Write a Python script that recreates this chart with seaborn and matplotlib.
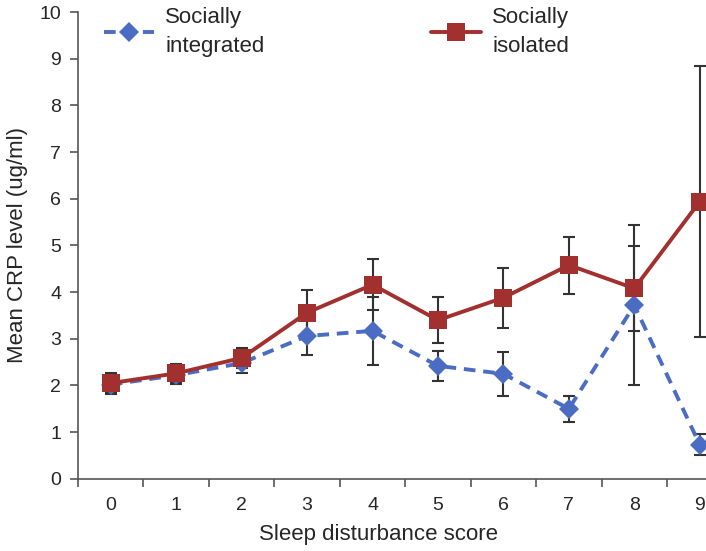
import numpy as np
import pandas as pd
import matplotlib
matplotlib.use('Agg')
import matplotlib.pyplot as plt
import seaborn as sns
from matplotlib.ticker import FixedLocator

# data
scores = [0, 1, 2, 3, 4, 5, 6, 7, 8, 9]
integrated_mean = [2.02, 2.22, 2.48, 3.06, 3.17, 2.42, 2.25, 1.50, 3.72, 0.73]
integrated_err = [0.20, 0.18, 0.22, 0.41, 0.73, 0.32, 0.47, 0.28, 1.72, 0.23]
isolated_mean = [2.05, 2.26, 2.59, 3.56, 4.16, 3.40, 3.88, 4.58, 4.08, 5.94]
isolated_err = [0.22, 0.20, 0.21, 0.48, 0.55, 0.50, 0.64, 0.61, 0.91, 2.91]
group_names = ['Socially integrated', 'Socially isolated']
legend_labels = ['Socially\nintegrated', 'Socially\nisolated']

blue = '#4a6cc2'
red = '#a2302e'

sns.set_style('white')
plt.rcParams['font.family'] = ['Liberation Sans', 'DejaVu Sans']
fs_tick = 14
fs_label = 16

df = pd.DataFrame({
    'score': scores * 2,
    'crp': integrated_mean + isolated_mean,
    'group': [group_names[0]] * len(scores) + [group_names[1]] * len(scores),
})

fig = plt.figure(figsize=(7.06, 5.51), dpi=100)
ax = fig.add_axes([0.1105, 0.131, 0.889, 0.847])

# error bars first, behind the lines
ax.errorbar(scores, isolated_mean, yerr=isolated_err, fmt='none', ecolor='#333333',
            elinewidth=1.5, capsize=4.5, capthick=1.5, zorder=1)
ax.errorbar(scores, integrated_mean, yerr=integrated_err, fmt='none', ecolor='#333333',
            elinewidth=1.5, capsize=4.5, capthick=1.5, zorder=1)

sns.lineplot(data=df, x='score', y='crp', hue='group', style='group', ax=ax,
             palette={group_names[0]: blue, group_names[1]: red},
             markers={group_names[0]: 'D', group_names[1]: 's'},
             dashes={group_names[0]: (3, 2), group_names[1]: ''},
             linewidth=2.8, markersize=10, markeredgewidth=0, sort=False,
             zorder=2)
for ln in ax.get_lines():
    if ln.get_marker() == 's':
        ln.set_markersize(12.5)

handles, labels = ax.get_legend_handles_labels()
leg = ax.legend(handles[-2:], legend_labels, ncol=2, frameon=False, fontsize=fs_label,
                loc='center left', bbox_to_anchor=(0.135, 0.942), bbox_transform=fig.transFigure,
                borderaxespad=0, columnspacing=7.5, handlelength=2.25, handletextpad=0.5)
for t in leg.get_texts():
    t.set_multialignment('left')
    t.set_linespacing(1.5)

ax.set_xlim(-0.5, 9.09)
ax.set_ylim(0, 10)
ax.set_yticks(range(0, 11))
ax.set_xticks(scores)
ax.xaxis.set_minor_locator(FixedLocator(np.arange(-0.5, 9.6, 1)))
ax.tick_params(axis='x', which='major', length=0, labelsize=fs_tick, pad=13)
ax.tick_params(axis='x', which='minor', length=6, width=1.2, color='#555555', direction='out', bottom=True)
ax.tick_params(axis='y', length=6, width=1.2, color='#555555', direction='out', left=True,
               labelsize=fs_tick, pad=6)

ax.set_xlabel('Sleep disturbance score', fontsize=fs_label, labelpad=6)
ax.xaxis.set_label_coords(0.478, -0.097)
ax.set_ylabel('Mean CRP level (ug/ml)', fontsize=fs_label, labelpad=8)

sns.despine(ax=ax)
for s in ['left', 'bottom']:
    ax.spines[s].set_color('#555555')
    ax.spines[s].set_linewidth(1.2)

fig.savefig('out.png', dpi=100)
